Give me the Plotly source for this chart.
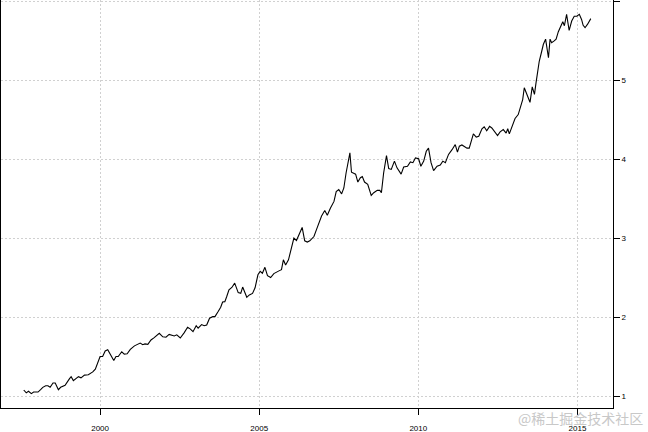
import plotly.graph_objects as go

years = [
    1997.60, 1997.68, 1997.75, 1997.84, 1997.91, 1998.05, 1998.13, 1998.20, 1998.29, 1998.36,
    1998.43, 1998.52, 1998.59, 1998.69, 1998.76, 1998.90, 1999.04, 1999.09, 1999.16, 1999.25,
    1999.32, 1999.40, 1999.51, 1999.63, 1999.77, 1999.85, 1999.93, 2000.00, 2000.08, 2000.16,
    2000.24, 2000.32, 2000.43, 2000.50, 2000.57, 2000.68, 2000.76, 2000.85, 2000.95, 2001.08,
    2001.18, 2001.26, 2001.34, 2001.41, 2001.50, 2001.60, 2001.70, 2001.86, 2001.97, 2002.07,
    2002.17, 2002.33, 2002.41, 2002.52, 2002.64, 2002.75, 2002.83, 2002.92, 2003.02, 2003.08,
    2003.19, 2003.27, 2003.35, 2003.44, 2003.54, 2003.61, 2003.71, 2003.79, 2003.85, 2003.92,
    2003.98, 2004.05, 2004.14, 2004.23, 2004.34, 2004.42, 2004.48, 2004.61, 2004.69, 2004.79,
    2004.87, 2004.96, 2005.03, 2005.10, 2005.18, 2005.26, 2005.36, 2005.46, 2005.62, 2005.70,
    2005.76, 2005.83, 2005.92, 2005.99, 2006.09, 2006.17, 2006.25, 2006.35, 2006.43, 2006.51,
    2006.59, 2006.72, 2006.82, 2006.96, 2007.06, 2007.14, 2007.24, 2007.35, 2007.42, 2007.50,
    2007.59, 2007.66, 2007.73, 2007.80, 2007.85, 2007.90, 2007.97, 2008.03, 2008.10, 2008.18,
    2008.24, 2008.31, 2008.41, 2008.52, 2008.60, 2008.71, 2008.79, 2008.84, 2008.91, 2009.00,
    2009.07, 2009.15, 2009.25, 2009.33, 2009.46, 2009.54, 2009.66, 2009.75, 2009.83, 2009.91,
    2010.01, 2010.08, 2010.17, 2010.25, 2010.32, 2010.40, 2010.48, 2010.59, 2010.69, 2010.77,
    2010.85, 2010.95, 2011.06, 2011.11, 2011.16, 2011.23, 2011.29, 2011.37, 2011.45, 2011.53,
    2011.60, 2011.66, 2011.73, 2011.82, 2011.90, 2012.00, 2012.07, 2012.15, 2012.24, 2012.31,
    2012.39, 2012.49, 2012.57, 2012.67, 2012.76, 2012.81, 2012.86, 2012.96, 2013.04, 2013.14,
    2013.22, 2013.28, 2013.33, 2013.39, 2013.46, 2013.51, 2013.58, 2013.65, 2013.70, 2013.75,
    2013.80, 2013.88, 2013.93, 2014.00, 2014.05, 2014.09, 2014.14, 2014.19, 2014.26, 2014.33,
    2014.40, 2014.47, 2014.54, 2014.59, 2014.66, 2014.74, 2014.82, 2014.90, 2014.98, 2015.06,
    2015.13, 2015.18, 2015.24, 2015.32, 2015.39, 2015.42,
]

values = [
    1.076, 1.04, 1.06, 1.03, 1.05, 1.05, 1.08, 1.11, 1.13, 1.13,
    1.11, 1.165, 1.165, 1.08, 1.11, 1.135, 1.22, 1.245, 1.195, 1.22,
    1.245, 1.23, 1.265, 1.27, 1.305, 1.34, 1.415, 1.50, 1.50, 1.57,
    1.585, 1.52, 1.45, 1.50, 1.50, 1.56, 1.53, 1.535, 1.59, 1.635,
    1.655, 1.67, 1.65, 1.66, 1.655, 1.71, 1.74, 1.795, 1.75, 1.745,
    1.78, 1.76, 1.775, 1.735, 1.80, 1.87, 1.85, 1.815, 1.89, 1.86,
    1.905, 1.89, 1.90, 1.985, 2.005, 2.005, 2.07, 2.125, 2.19, 2.195,
    2.26, 2.345, 2.375, 2.43, 2.31, 2.30, 2.38, 2.25, 2.28, 2.30,
    2.37, 2.535, 2.58, 2.555, 2.63, 2.525, 2.50, 2.55, 2.585, 2.60,
    2.725, 2.66, 2.725, 2.83, 3.00, 2.97, 3.04, 3.135, 2.965, 2.95,
    2.965, 3.02, 3.13, 3.28, 3.35, 3.29, 3.38, 3.465, 3.59, 3.615,
    3.56, 3.635, 3.825, 3.96, 4.08, 3.835, 3.825, 3.81, 3.71, 3.765,
    3.78, 3.71, 3.68, 3.54, 3.575, 3.605, 3.605, 3.575, 3.825, 4.045,
    3.88, 3.87, 3.975, 3.89, 3.81, 3.90, 3.91, 3.965, 3.955, 4.015,
    4.005, 3.91, 3.975, 4.10, 4.14, 3.955, 3.855, 3.91, 3.925, 3.975,
    3.955, 4.06, 4.12, 4.15, 4.185, 4.09, 4.165, 4.18, 4.165, 4.14,
    4.14, 4.225, 4.32, 4.28, 4.29, 4.385, 4.41, 4.36, 4.415, 4.395,
    4.35, 4.30, 4.345, 4.375, 4.33, 4.385, 4.32, 4.44, 4.515, 4.565,
    4.67, 4.755, 4.905, 4.84, 4.755, 4.72, 4.915, 4.82, 4.97, 5.145,
    5.24, 5.37, 5.455, 5.52, 5.39, 5.285, 5.52, 5.475, 5.495, 5.52,
    5.615, 5.69, 5.74, 5.69, 5.835, 5.63, 5.75, 5.81, 5.81, 5.835,
    5.77, 5.695, 5.665, 5.71, 5.75, 5.78,
]

x_ticks = [2000, 2005, 2010, 2015]
x_tick_labels = ["2000", "2005", "2010", "2015"]
y_ticks = [1, 2, 3, 4, 5, 6]
y_tick_labels = ["1", "2", "3", "4", "5", "6"]

fig = go.Figure()
fig.add_trace(go.Scatter(
    x=years, y=values, mode="lines",
    line=dict(color="black", width=1.1),
    showlegend=False, hoverinfo="skip",
))

tick_font = dict(family="Liberation Sans, Arial, sans-serif", size=8, color="black")
grid_dash = "2px,2px"

fig.update_layout(
    width=648, height=432,
    margin=dict(l=1, r=35, t=0, b=24),
    paper_bgcolor="white", plot_bgcolor="white",
    xaxis=dict(
        range=[1996.886, 2016.118],
        tickmode="array", tickvals=x_ticks, ticktext=x_tick_labels,
        ticks="outside", ticklen=6, tickcolor="black", tickwidth=1,
        showline=True, linecolor="black", linewidth=1,
        showgrid=True, gridcolor="#d0d0d0", griddash=grid_dash, gridwidth=1,
        zeroline=False, tickfont=tick_font, ticklabelstandoff=6,
    ),
    yaxis=dict(
        range=[0.848, 6.016], side="right",
        tickmode="array", tickvals=y_ticks, ticktext=y_tick_labels,
        ticks="outside", ticklen=6, tickcolor="black", tickwidth=1,
        showline=True, mirror=True, linecolor="black", linewidth=1,
        showgrid=True, gridcolor="#d0d0d0", griddash=grid_dash, gridwidth=1,
        zeroline=False, tickfont=tick_font,
    ),
    annotations=[dict(
        text="@稀土掘金技术社区", xref="paper", yref="paper",
        x=1.053, y=-0.025, xanchor="right", yanchor="middle",
        showarrow=False,
        font=dict(family="Noto Sans CJK SC", size=14, color="#c8c8c8"),
    )],
)

fig.write_html(
    "out.html",
    config={"displayModeBar": False},
    post_script="document.body.style.margin='0';document.body.style.overflow='hidden';",
)
